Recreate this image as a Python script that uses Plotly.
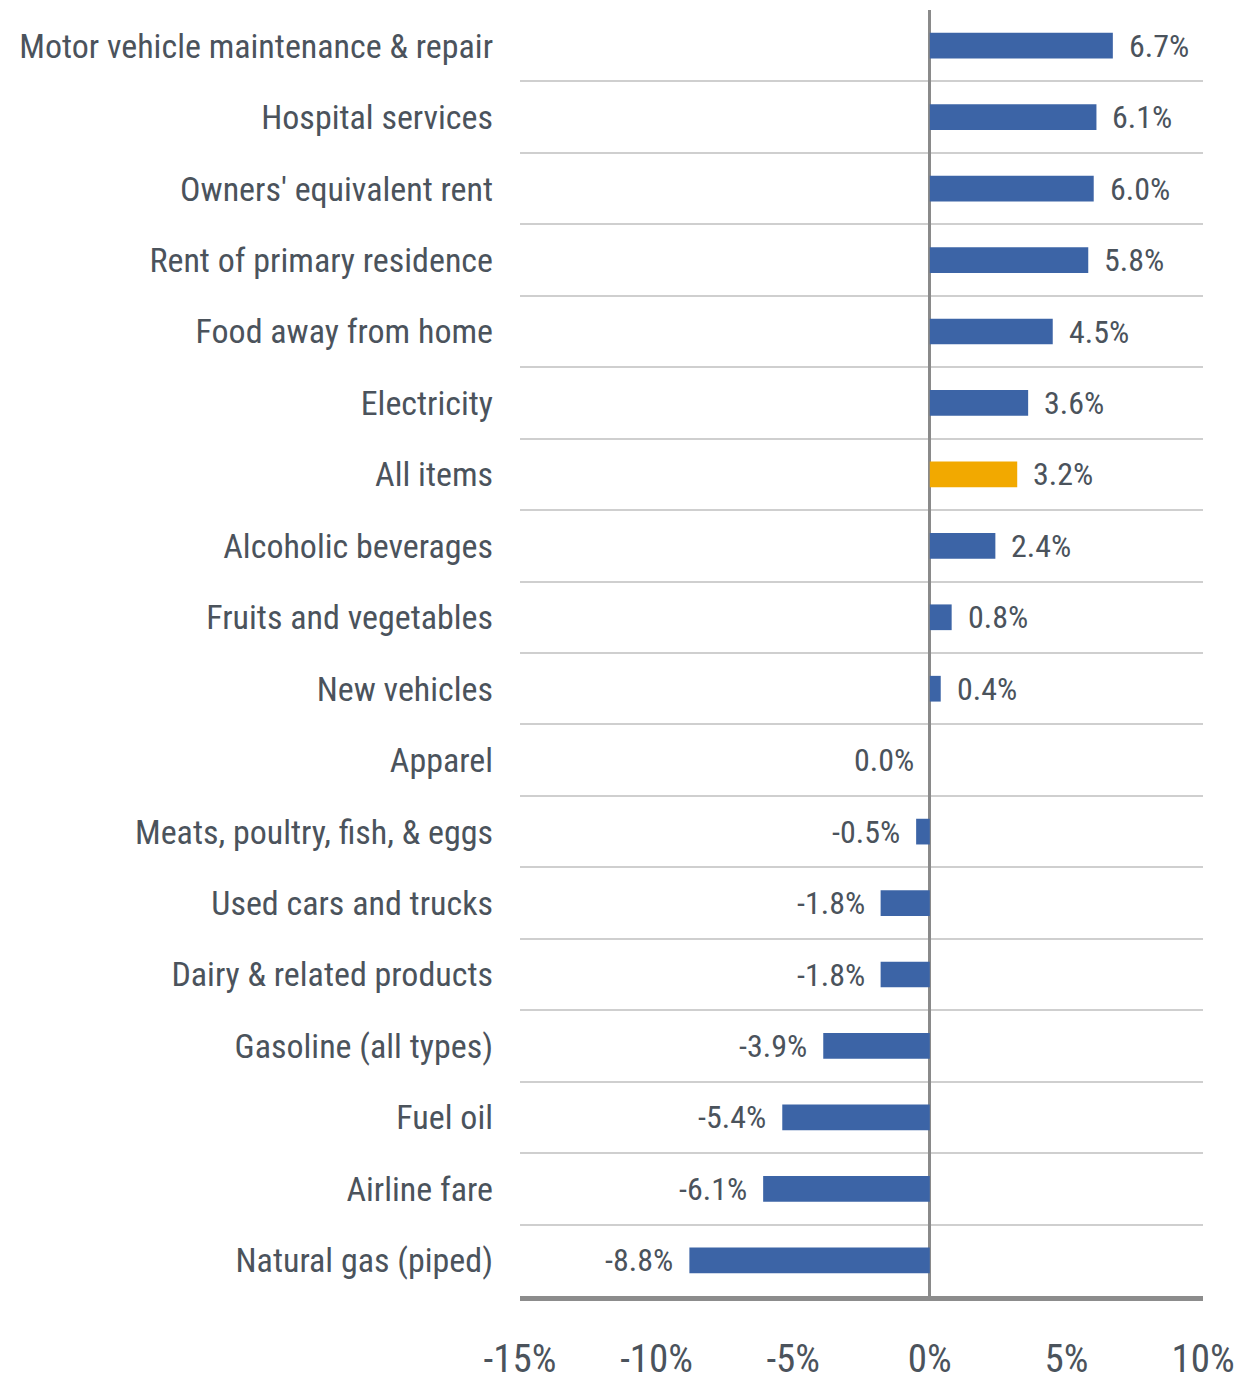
import plotly.graph_objects as go

categories = [
    "Motor vehicle maintenance & repair", "Hospital services", "Owners' equivalent rent",
    "Rent of primary residence", "Food away from home", "Electricity", "All items",
    "Alcoholic beverages", "Fruits and vegetables", "New vehicles", "Apparel",
    "Meats, poultry, fish, & eggs", "Used cars and trucks", "Dairy & related products",
    "Gasoline (all types)", "Fuel oil", "Airline fare", "Natural gas (piped)",
]
values = [6.7, 6.1, 6.0, 5.8, 4.5, 3.6, 3.2, 2.4, 0.8, 0.4, 0.0, -0.5, -1.8, -1.8, -3.9, -5.4, -6.1, -8.8]
highlight = "All items"
x_ticks = [-15, -10, -5, 0, 5, 10]
x_tick_labels = ["-15%", "-10%", "-5%", "0%", "5%", "10%"]

BLUE = "#3c64a6"
ORANGE = "#f2a900"
TEXT = "#4b535c"
FONT = "Roboto Condensed, Liberation Sans Narrow, sans-serif"

colors = [ORANGE if c == highlight else BLUE for c in categories]

fig = go.Figure()
fig.add_trace(go.Bar(
    x=values, y=categories, orientation="h",
    marker=dict(color=colors, line=dict(width=0)),
    width=0.36, hoverinfo="skip",
))

for c, v in zip(categories, values):
    pos = v > 0
    fig.add_annotation(
        x=v, y=c, text=f"{v:.1f}%", showarrow=False,
        xanchor="left" if pos else "right", xshift=14 if pos else -14,
        font=dict(family=FONT, size=32, color=TEXT, weight=400),
    )

fig.update_layout(
    width=1245, height=1380,
    margin=dict(l=512, r=50, t=2, b=92),
    plot_bgcolor="white", paper_bgcolor="white",
    showlegend=False,
    font=dict(family=FONT, color=TEXT),
)
fig.update_xaxes(
    range=[-15, 10], tickvals=x_ticks, ticktext=x_tick_labels,
    showgrid=False, zeroline=True, zerolinecolor="#8a8a8a", zerolinewidth=3,
    showline=True, linecolor="#8c8c8c", linewidth=5,
    tickfont=dict(family=FONT, size=39, color=TEXT, weight=400),
    ticks="", ticklabelstandoff=24, automargin=False,
)
fig.update_yaxes(
    type="category", categoryorder="array", categoryarray=categories,
    autorange="reversed", tickson="boundaries",
    showgrid=True, gridcolor="#cfcfcf", gridwidth=2,
    tickfont=dict(family=FONT, size=34, color=TEXT, weight=400),
    ticks="", ticklabelstandoff=26, showline=False, automargin=False,
)

fig.write_html("out.html")
